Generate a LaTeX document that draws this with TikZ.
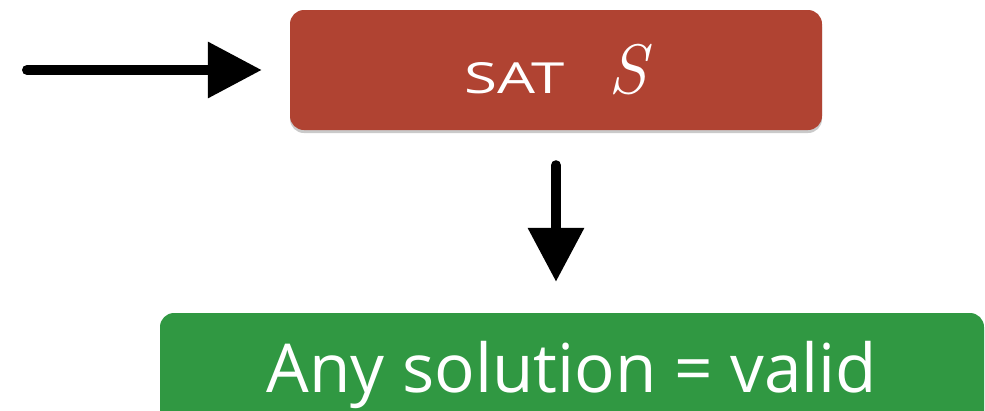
\documentclass[tikz,border=0pt]{standalone}
\usepackage{fontspec}
\setsansfont{Open Sans}
\usetikzlibrary{arrows.meta,shadows}
\definecolor{boxred}{RGB}{176,67,50}
\definecolor{boxgreen}{RGB}{48,152,66}
\tikzset{
  card/.style={rounded corners=14pt, inner sep=0pt, text=white,
    drop shadow={shadow xshift=0pt, shadow yshift=-3pt, opacity=0.35, fill=black!60}},
  bigarrow/.style={line width=10pt, line cap=round, draw=black,
    -{Triangle[length=54pt, width=54pt]}}
}
\begin{document}
\begin{tikzpicture}[x=1pt,y=1pt]
\useasboundingbox (0,0) rectangle (985,-410);
\clip (0,0) rectangle (985,-410);
\node[card, fill=boxred, minimum width=532pt, minimum height=120pt] (sat) at (556,-70)
  {\resizebox{100pt}{31pt}{\sffamily SAT}\hspace{44pt}{\rmfamily\itshape\fontsize{70}{70}\selectfont S}};
\node[card, fill=boxgreen, minimum width=824pt, minimum height=112pt, text depth=0pt] (valid) at (572,-369)
  {\raisebox{4pt}{\resizebox{610pt}{!}{\sffamily Any solution = valid}}};
\coordinate (start) at (27,-70);
\draw[bigarrow, shorten >=28pt] (start) -- (sat.west);
\draw[bigarrow, shorten <=35pt, shorten >=31pt] (sat.south) -- (sat.south |- valid.north);
\end{tikzpicture}
\end{document}
